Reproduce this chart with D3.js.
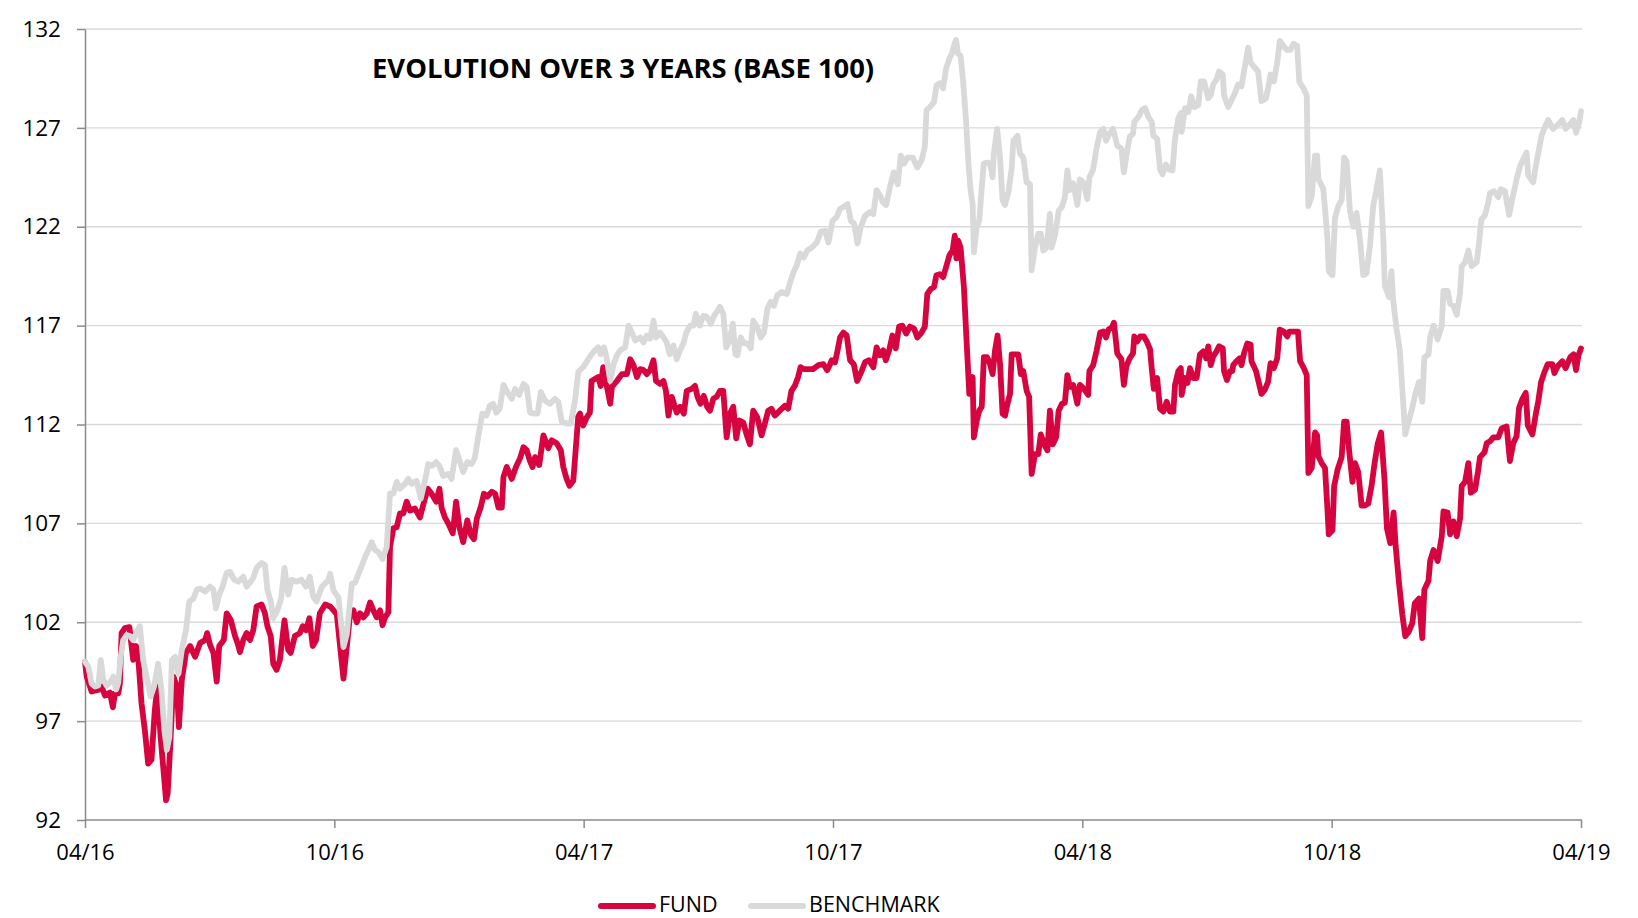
<!DOCTYPE html>
<html lang="en">
<head>
<meta charset="UTF-8">
<title>Evolution over 3 years</title>
<script src="https://cdn.jsdelivr.net/npm/d3@7"></script>
<style>
    body { margin: 0; background: #fff; }
    #chart text { font-family: "Open Sans", sans-serif; fill: #000; }
    .axis path, .axis line { stroke: #8a8a8a; stroke-width: 1.5px; }
    .grid line { stroke: #d9d9d9; stroke-width: 1.3px; }
    .series { fill: none; stroke-width: 5.8px; stroke-linejoin: round; stroke-linecap: round; }
</style>
</head>
<body>
<svg id="chart" width="1638" height="918"></svg>
<script>
    // months since 04/2016 and base-100 values
    const fundMonths = [0,0.04,0.16,0.36,0.40,0.48,0.60,0.67,0.72,0.80,0.84,0.88,0.96,1.07,1.12,1.16,1.23,1.28,1.36,1.44,1.52,1.60,1.68,1.74,1.82,1.95,1.99,2.05,2.13,2.21,2.26,2.33,2.43,2.53,2.65,2.77,2.89,2.94,3.01,3.09,3.17,3.23,3.34,3.41,3.51,3.61,3.67,3.73,3.81,3.89,3.97,4.05,4.13,4.25,4.33,4.39,4.47,4.53,4.61,4.69,4.80,4.89,4.95,5.05,5.17,5.24,5.32,5.40,5.48,5.56,5.65,5.78,5.90,
        6.06,6.14,6.22,6.30,6.38,6.46,6.54,6.62,6.70,6.78,6.86,6.94,7.02,7.10,7.16,7.22,7.30,7.34,7.42,7.50,7.58,7.66,7.74,7.82,7.94,8.06,8.16,8.25,8.34,8.45,8.53,8.58,8.66,8.74,8.85,8.93,9.01,9.10,9.20,9.29,9.36,9.43,9.52,9.60,9.68,9.79,9.87,9.95,10.03,10.07,10.15,10.27,10.37,10.47,10.55,10.63,10.70,10.77,10.83,10.93,11.03,11.15,11.23,11.35,11.45,11.51,11.59,11.66,11.75,11.82,11.87,
        11.91,11.99,12.07,12.15,12.19,12.27,12.35,12.41,12.47,12.51,12.57,12.64,12.68,12.80,12.92,13.04,13.12,13.20,13.28,13.36,13.44,13.52,13.60,13.68,13.74,13.84,13.92,13.98,14.04,14.12,14.24,14.32,14.41,14.48,14.60,14.68,14.74,14.81,14.89,14.97,15.04,15.12,15.20,15.28,15.36,15.44,15.52,15.60,15.67,15.75,15.84,15.92,16.00,16.08,16.18,16.28,16.36,16.44,16.52,16.60,16.72,16.84,16.92,17.00,17.08,17.16,17.22,17.30,17.40,17.52,17.65,17.77,17.86,17.93,
        17.97,18.05,18.11,18.17,18.25,18.33,18.41,18.50,18.58,18.69,18.77,18.87,18.97,19.05,19.13,19.21,19.27,19.35,19.43,19.51,19.59,19.67,19.76,19.85,19.95,20.03,20.13,20.21,20.27,20.35,20.43,20.49,20.57,20.65,20.72,20.80,20.88,20.93,20.97,21.01,21.07,21.15,21.21,21.28,21.36,21.39,21.46,21.52,21.58,21.63,21.71,21.78,21.84,21.90,21.96,22.02,22.08,22.14,22.20,22.26,22.30,22.38,22.46,22.52,22.58,22.66,22.72,22.78,22.86,22.94,23.00,23.08,23.16,23.22,23.29,23.37,23.43,23.51,23.58,23.64,23.70,23.78,23.88,
        23.94,24.02,24.14,24.17,24.26,24.34,24.43,24.51,24.57,24.63,24.71,24.76,24.84,24.94,25.00,25.06,25.14,25.22,25.25,25.32,25.39,25.48,25.55,25.63,25.67,25.72,25.80,25.87,25.95,26.03,26.11,26.19,26.23,26.31,26.37,26.39,26.47,26.53,26.59,26.67,26.75,26.83,26.91,26.98,27.03,27.09,27.15,27.23,27.29,27.38,27.41,27.48,27.55,27.61,27.63,27.71,27.79,27.83,27.89,27.97,28.05,28.07,28.18,28.26,28.31,28.39,28.47,28.53,28.61,28.69,28.75,28.85,28.93,28.98,29.07,29.19,29.24,29.33,29.40,29.44,29.52,29.60,29.65,29.68,29.76,
        29.84,29.90,29.93,30.02,30.06,30.14,30.24,30.30,30.36,30.42,30.50,30.56,30.64,30.72,30.80,30.88,30.96,31.03,31.11,31.19,31.27,31.33,31.41,31.49,31.54,31.62,31.70,31.77,31.85,31.94,32.00,32.10,32.18,32.23,32.33,32.37,32.45,32.55,32.65,32.69,32.79,32.85,32.93,33.01,33.09,33.13,33.21,33.29,33.35,33.45,33.52,33.57,33.68,33.73,33.81,33.89,34.01,34.09,34.21,34.29,34.37,34.45,34.51,34.59,34.67,34.72,34.83,34.91,34.97,35.04,35.12,35.20,35.31,35.36,35.44,35.55,35.63,35.74,35.82,35.88,35.94,36.0];
    const fundValues = [100,99.25,98.5,98.6,98.75,98.3,98.45,97.7,98.4,98.4,98.9,101.45,101.7,101.75,100.8,100.1,100.8,100.25,97.9,96.55,94.85,95.05,97.55,98.75,96.2,93.0,93.35,95.7,99.25,98.75,96.7,99.1,100.45,100.8,100.25,100.95,101.1,101.45,100.85,100.45,99.0,100.8,101.1,102.45,102.1,101.3,100.95,100.5,101.1,101.45,101.1,101.6,102.8,102.9,102.45,101.8,101.3,99.9,99.6,100.1,102.1,100.6,100.45,101.3,101.45,101.8,101.6,102.2,100.8,101.1,102.45,102.9,102.8,
        102.4,100.75,99.15,100.75,102.45,102.6,102.0,102.45,102.25,102.45,103.0,102.6,102.25,102.6,101.85,102.25,102.5,105.8,106.75,106.8,107.5,107.5,108.1,107.65,107.75,107.3,108.1,108.75,108.5,108.1,108.75,107.8,107.3,107.0,106.5,108.1,106.8,106.05,107.15,106.4,106.2,107.25,107.8,108.5,108.35,108.6,108.5,107.8,107.8,109.35,109.85,109.25,109.85,110.3,110.85,110.7,110.2,109.85,110.35,109.95,111.45,110.8,111.2,111.05,110.7,109.85,109.25,108.9,109.15,111.05,112.4,
        112.55,111.95,112.35,112.6,114.2,114.3,114.4,113.95,114.9,114.4,113.8,113.05,113.9,114.2,114.55,114.55,115.3,115.0,114.4,114.8,114.75,114.55,114.75,115.25,114.2,114.05,114.2,113.7,112.45,113.4,112.6,112.9,112.55,113.7,113.8,113.95,113.4,113.05,113.45,112.9,112.7,113.3,113.4,113.7,113.7,111.35,112.55,112.9,111.3,112.2,112.1,111.5,111.0,112.7,112.35,111.45,112.05,112.7,112.8,112.45,112.7,112.95,112.8,113.7,113.95,114.4,114.9,114.8,114.8,114.8,115.0,115.05,114.75,115.05,
        115.25,115.15,115.75,116.4,116.65,116.5,115.25,115.05,114.2,114.7,115.15,115.25,114.9,115.9,115.5,115.75,115.25,115.75,116.5,115.85,116.95,117.0,116.6,116.95,116.85,116.4,116.65,116.95,118.6,118.85,118.95,119.55,119.6,119.45,119.95,120.55,120.8,121.55,120.4,121.3,120.95,118.95,116.4,113.55,114.4,111.35,112.2,112.7,112.9,115.4,115.4,115.05,114.55,115.75,116.5,115.05,112.55,112.45,113.05,113.55,115.55,115.55,115.55,114.55,114.7,113.7,113.4,109.5,110.5,110.5,111.5,111.0,110.7,112.7,111.0,111.35,112.7,113.05,113.1,114.5,113.9,114.0,113.05,
        114.0,113.85,113.5,114.7,115.0,115.7,116.65,116.7,116.4,116.8,116.9,117.15,115.6,115.3,114.0,114.95,115.35,115.6,116.45,116.2,116.45,116.45,116.2,115.8,114.85,113.8,114.35,112.8,112.65,113.15,112.65,112.65,114.0,114.7,114.85,113.5,114.35,114.1,114.85,114.35,114.35,115.55,115.7,115.35,115.95,115.0,115.45,115.7,115.95,115.85,114.7,114.25,114.7,114.7,115.0,115.2,115.35,115.0,115.6,116.1,116.05,115.2,114.7,114.0,113.55,113.75,114.15,115.1,114.85,115.35,116.8,116.7,116.45,116.7,116.7,116.7,115.2,114.85,114.5,109.55,109.8,111.6,111.45,110.4,110.05,
        109.8,107.65,106.45,106.65,108.9,109.7,110.35,112.15,112.15,110.7,109.1,110.05,109.6,107.9,107.9,108.0,108.9,110.0,111.05,111.6,109.25,106.75,106.0,107.55,105.85,104.0,102.4,101.3,101.5,101.95,102.95,103.2,101.2,103.65,104.1,105.1,105.65,105.1,106.35,107.6,107.55,106.45,107.1,106.35,107.25,108.9,109.1,110.05,108.55,108.7,109.6,110.35,110.6,111.05,111.15,111.35,111.35,111.8,111.9,110.15,111.05,111.4,112.85,113.3,113.6,111.95,111.5,112.5,113.15,114.15,114.65,115.05,115.05,114.6,114.95,115.2,114.85,115.4,115.55,114.75,115.5,115.85];

    const benchMonths = [0,0.08,0.16,0.24,0.32,0.38,0.44,0.52,0.60,0.68,0.75,0.80,0.86,0.92,1.00,1.08,1.16,1.24,1.32,1.40,1.48,1.58,1.66,1.76,1.84,1.91,1.97,2.03,2.09,2.17,2.25,2.33,2.43,2.51,2.61,2.69,2.78,2.89,3.01,3.09,3.15,3.23,3.31,3.41,3.49,3.59,3.69,3.81,3.89,3.97,4.05,4.13,4.25,4.33,4.39,4.47,4.53,4.63,4.72,4.80,4.89,4.97,5.09,5.21,5.32,5.41,5.49,5.57,5.70,5.86,
        5.90,5.98,6.10,6.22,6.30,6.42,6.50,6.58,6.66,6.74,6.82,6.90,6.98,7.06,7.16,7.26,7.34,7.42,7.50,7.58,7.70,7.78,7.86,7.98,8.08,8.18,8.26,8.34,8.45,8.53,8.62,8.74,8.82,8.93,9.01,9.10,9.20,9.30,9.38,9.46,9.56,9.66,9.74,9.82,9.90,9.98,10.07,10.16,10.27,10.35,10.45,10.55,10.63,10.71,10.81,10.89,10.97,11.07,11.19,11.31,11.39,11.47,11.59,11.69,11.79,11.87,
        11.91,11.99,12.11,12.19,12.27,12.35,12.41,12.49,12.55,12.64,12.72,12.80,12.88,13.00,13.08,13.16,13.24,13.36,13.44,13.52,13.60,13.68,13.74,13.84,13.92,14.00,14.07,14.16,14.24,14.32,14.40,14.47,14.56,14.64,14.70,14.79,14.88,14.96,15.06,15.14,15.22,15.28,15.36,15.43,15.51,15.59,15.65,15.70,15.78,15.86,15.94,16.02,16.08,16.18,16.26,16.34,16.42,16.50,16.58,16.66,16.77,16.89,16.97,17.05,17.13,17.21,17.30,17.38,17.49,17.61,17.71,17.81,17.89,
        17.99,18.09,18.17,18.25,18.35,18.43,18.51,18.59,18.67,18.77,18.89,18.97,19.05,19.13,19.20,19.28,19.37,19.46,19.56,19.63,19.71,19.79,19.92,20.03,20.13,20.21,20.25,20.33,20.43,20.49,20.57,20.65,20.72,20.80,20.86,20.91,20.96,21.01,21.07,21.13,21.20,21.26,21.31,21.36,21.39,21.46,21.52,21.58,21.63,21.71,21.78,21.84,21.87,21.95,22.02,22.08,22.14,22.22,22.30,22.34,22.44,22.50,22.58,22.66,22.74,22.78,22.86,22.94,23.00,23.06,23.14,23.22,23.26,23.35,23.43,23.51,23.58,23.64,23.70,23.78,23.88,
        23.94,24.02,24.12,24.17,24.26,24.34,24.43,24.51,24.57,24.65,24.74,24.84,24.94,25.00,25.06,25.14,25.22,25.25,25.35,25.43,25.51,25.59,25.67,25.71,25.80,25.87,25.93,26.01,26.09,26.17,26.23,26.31,26.37,26.39,26.47,26.55,26.62,26.69,26.79,26.85,26.93,27.03,27.09,27.15,27.23,27.29,27.38,27.41,27.51,27.59,27.67,27.75,27.83,27.89,27.95,27.99,28.05,28.15,28.23,28.31,28.42,28.47,28.53,28.61,28.69,28.75,28.84,28.92,29.01,29.08,29.17,29.22,29.32,29.40,29.44,29.52,29.60,29.65,29.68,29.80,
        29.90,29.93,30.02,30.08,30.16,30.24,30.30,30.36,30.44,30.52,30.60,30.68,30.76,30.84,30.92,31.00,31.08,31.16,31.24,31.28,31.38,31.44,31.48,31.56,31.64,31.77,31.85,31.94,32.02,32.10,32.18,32.23,32.33,32.37,32.45,32.55,32.65,32.69,32.79,32.85,32.93,33.01,33.09,33.13,33.21,33.29,33.37,33.49,33.55,33.60,33.69,33.76,33.81,33.91,34.01,34.07,34.17,34.27,34.35,34.45,34.53,34.63,34.69,34.73,34.85,34.91,34.97,35.05,35.13,35.21,35.33,35.44,35.55,35.63,35.74,35.82,35.88,35.96,36.0];
    const benchValues = [100,99.75,98.9,98.75,98.8,100.1,99.1,98.8,98.95,99.25,98.6,98.95,100.25,101.1,101.35,101.3,101.1,101.5,101.8,100.1,99.25,98.25,98.75,99.9,98.6,96.55,95.55,96.2,100.1,100.25,99.4,100.6,101.6,103.05,103.2,103.65,103.7,103.55,103.8,103.65,102.7,103.4,103.8,104.5,104.55,104.15,104.05,104.3,103.8,104.0,104.25,104.75,105.0,104.9,103.65,103.05,102.2,102.6,103.2,104.75,103.4,104.15,104.05,104.15,103.8,104.3,103.3,103.05,103.8,104.15,
        104.45,103.6,103.25,100.75,101.4,103.95,104.0,104.45,104.85,105.3,105.65,106.05,105.65,105.55,105.2,105.8,108.5,108.5,109.1,108.75,109.0,109.25,109.0,109.15,108.25,109.15,110.0,109.9,110.1,109.9,109.4,109.5,109.25,110.7,110.2,109.6,110.1,110.0,110.3,111.35,112.55,112.45,112.95,113.05,112.6,112.8,114.0,113.65,113.3,113.8,113.5,114.05,113.9,112.6,112.55,112.55,113.65,113.2,113.05,113.3,113.15,112.15,112.05,112.05,113.2,114.65,
        114.75,114.9,115.3,115.55,115.75,115.9,115.55,115.9,115.4,114.2,115.05,115.5,115.75,115.9,117.0,116.65,116.25,116.4,116.15,116.5,116.35,117.25,116.4,116.65,116.4,116.15,115.55,116.0,115.3,115.75,116.1,116.65,117.0,117.0,117.6,117.0,117.5,117.45,117.1,117.5,117.75,117.95,117.6,115.9,116.25,117.1,115.55,115.5,116.4,116.1,116.1,115.85,117.25,116.9,116.4,116.65,117.85,118.2,118.0,118.55,118.7,118.6,119.2,119.7,120.05,120.65,120.45,120.8,120.95,121.2,121.75,121.8,121.2,
        122.3,122.5,122.9,123.0,123.15,122.3,122.15,121.15,122.0,122.55,122.75,122.65,123.85,123.6,123.25,123.1,124.0,124.75,124.15,125.6,125.2,125.5,125.5,125.0,125.35,126.05,127.9,128.05,128.3,129.15,129.25,129.0,130.0,130.5,130.75,131.15,131.45,130.75,130.65,129.4,127.4,125.2,123.85,123.15,120.7,122.0,122.3,124.0,125.2,125.25,125.2,124.5,125.7,126.95,125.5,123.35,123.1,123.75,124.95,126.35,126.6,125.7,125.5,124.25,124.15,119.8,120.95,121.65,121.65,120.8,120.95,122.65,120.95,121.65,122.8,123.0,123.5,124.85,123.85,124.2,123.1,
        124.4,124.25,123.4,124.5,124.9,125.95,126.8,126.95,126.35,126.7,126.95,126.1,125.95,124.75,125.6,126.55,126.7,127.3,127.55,127.9,128.0,127.55,127.3,126.6,126.45,124.9,124.65,125.15,124.9,124.85,126.45,127.5,127.75,126.8,128.0,127.8,128.6,128.05,128.15,129.35,129.35,128.5,128.65,129.2,129.45,129.85,129.7,128.65,128.05,128.4,128.75,129.2,129.1,129.85,130.55,131.05,130.3,130.05,129.85,128.35,128.5,129.0,129.7,129.35,130.3,131.4,131.15,130.95,130.95,131.25,131.15,129.35,129.0,128.65,123.05,123.55,125.6,125.6,124.4,123.9,
        121.35,119.75,119.55,122.45,123.05,123.35,125.5,125.3,122.8,122.0,122.7,121.35,119.55,119.65,121.0,123.05,123.9,124.85,121.55,119.0,118.45,119.75,118.3,116.85,115.75,111.5,112.15,112.85,113.6,114.15,113.15,115.4,115.55,116.4,117.0,116.3,117.0,118.75,118.75,118.1,118.0,117.55,118.65,120.0,120.2,120.8,120.0,120.2,121.25,122.35,122.6,123.15,123.7,123.8,123.5,123.9,123.8,122.6,123.45,124.4,125.05,125.5,125.75,124.6,124.25,125.05,125.7,126.6,127.05,127.4,126.95,127.15,127.4,126.95,127.2,127.4,126.75,127.3,127.85];

    const yTicks = [92, 97, 102, 107, 112, 117, 122, 127, 132];
    const xTickMonths = [0, 6, 12, 18, 24, 30, 36];
    const xTickLabels = ["04/16", "10/16", "04/17", "10/17", "04/18", "10/18", "04/19"];
    const seriesNames = ["FUND", "BENCHMARK"];
    const seriesColors = ["#d6043f", "#d9d9d9"];

    if (fundMonths.length !== fundValues.length || benchMonths.length !== benchValues.length) {
        throw new Error(`length mismatch fund ${fundMonths.length}/${fundValues.length} bench ${benchMonths.length}/${benchValues.length}`);
    }

    const svg = d3.select("#chart");
    const plotLeft = 85, plotRight = 1582, plotTop = 29, plotBottom = 820;

    const x = d3.scaleLinear().domain([0, 36]).range([plotLeft, 1581]);
    const y = d3.scaleLinear().domain([92, 132]).range([plotBottom, plotTop]);

    // gridlines
    svg.append("g").attr("class", "grid")
        .selectAll("line")
        .data(yTicks.filter(d => d !== 92))
        .join("line")
        .attr("x1", plotLeft).attr("x2", plotRight)
        .attr("y1", d => y(d)).attr("y2", d => y(d));

    // axes
    const yAxis = d3.axisLeft(y).tickValues(yTicks).tickSize(8).tickSizeOuter(0).tickPadding(16);
    svg.append("g").attr("class", "axis")
        .attr("transform", `translate(${plotLeft},0)`)
        .call(yAxis)
        .call(g => g.selectAll("text").style("font-size", "22.5px"));

    const xAxis = d3.axisBottom(x).tickValues(xTickMonths).tickSize(8).tickSizeOuter(0).tickPadding(16)
        .tickFormat((d, i) => xTickLabels[i]);
    svg.append("g").attr("class", "axis")
        .attr("transform", `translate(0,${plotBottom})`)
        .call(xAxis)
        .call(g => g.select(".domain").attr("d", `M${plotLeft},0H${plotRight}`))
        .call(g => g.selectAll("text").style("font-size", "22px"));

    // lines
    const line = d3.line().x(d => x(d[0])).y(d => y(d[1]));
    const fund = d3.zip(fundMonths, fundValues);
    const bench = d3.zip(benchMonths, benchValues);

    svg.append("path").attr("class", "series")
        .attr("d", line(fund)).attr("stroke", seriesColors[0]);
    svg.append("path").attr("class", "series")
        .attr("d", line(bench)).attr("stroke", seriesColors[1]);

    // title
    svg.append("text")
        .attr("x", 372).attr("y", 78)
        .style("font-size", "27.4px").style("font-weight", "bold")
        .text("EVOLUTION OVER 3 YEARS (BASE 100)");

    // legend
    const legendX = [601, 751];
    const legend = svg.append("g").selectAll("g")
        .data(seriesNames)
        .join("g")
        .attr("transform", (d, i) => `translate(${legendX[i]},906)`);
    legend.append("line")
        .attr("x1", 0).attr("x2", 52)
        .attr("stroke", (d, i) => seriesColors[i])
        .attr("stroke-width", 6).attr("stroke-linecap", "round");
    legend.append("text")
        .attr("x", 58).attr("y", 6)
        .style("font-size", "21.5px")
        .text(d => d);
</script>
</body>
</html>
